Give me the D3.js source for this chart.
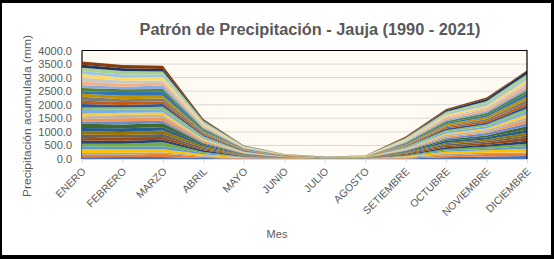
<!DOCTYPE html>
<html lang="es">
<head>
<meta charset="UTF-8">
<title>Patrón de Precipitación - Jauja (1990 - 2021)</title>
<script src="https://d3js.org/d3.v7.min.js"></script>
<style>
    body { margin: 0; background: #fff; }
    svg { display: block; font-family: "Liberation Sans", Arial, sans-serif; }
</style>
</head>
<body>
<svg id="chart" width="554" height="259"></svg>
<script>
// Meses (eje x)
const meses = ["ENERO", "FEBRERO", "MARZO", "ABRIL", "MAYO", "JUNIO", "JULIO",
    "AGOSTO", "SETIEMBRE", "OCTUBRE", "NOVIEMBRE", "DICIEMBRE"];

// Años (una serie por año)
const anios = [1990, 1991, 1992, 1993, 1994, 1995, 1996, 1997, 1998, 1999, 2000,
    2001, 2002, 2003, 2004, 2005, 2006, 2007, 2008, 2009, 2010, 2011, 2012, 2013,
    2014, 2015, 2016, 2017, 2018, 2019, 2020, 2021];

// Precipitación mensual (mm), una fila por año, estimada del gráfico
const precipitacion = [
    [62, 70, 78, 40, 12, 20, 2, 6, 20, 60, 95, 110],
    [95, 88, 120, 42, 18, 4, 1, 3, 22, 70, 90, 75],
    [60, 72, 55, 30, 10, 6, 0, 5, 18, 62, 48, 55],
    [150, 120, 105, 60, 14, 3, 2, 4, 28, 75, 85, 140],
    [105, 98, 115, 52, 20, 2, 3, 1, 15, 48, 60, 95],
    [90, 110, 140, 35, 8, 0, 1, 2, 30, 55, 70, 85],
    [120, 115, 95, 65, 22, 5, 2, 3, 25, 60, 75, 110],
    [85, 125, 100, 40, 12, 3, 0, 6, 35, 45, 75, 120],
    [140, 90, 110, 55, 15, 8, 4, 2, 20, 65, 55, 80],
    [125, 110, 130, 48, 25, 6, 3, 5, 30, 50, 65, 100],
    [110, 135, 120, 62, 18, 4, 5, 3, 22, 70, 80, 115],
    [160, 140, 150, 45, 20, 2, 6, 4, 28, 58, 72, 125],
    [80, 120, 95, 38, 14, 15, 8, 2, 24, 60, 88, 105],
    [115, 105, 125, 50, 10, 3, 2, 6, 18, 52, 40, 130],
    [70, 130, 85, 35, 16, 5, 4, 3, 26, 65, 70, 95],
    [100, 80, 90, 42, 12, 2, 3, 5, 20, 48, 55, 110],
    [135, 115, 100, 58, 14, 6, 2, 2, 32, 60, 85, 120],
    [95, 75, 110, 45, 18, 1, 3, 4, 25, 55, 68, 90],
    [130, 95, 105, 40, 24, 5, 2, 3, 22, 62, 60, 100],
    [120, 110, 90, 52, 20, 20, 4, 6, 30, 52, 70, 95],
    [145, 100, 115, 48, 10, 2, 7, 2, 18, 45, 65, 125],
    [110, 125, 95, 45, 15, 4, 3, 5, 28, 60, 75, 115],
    [90, 140, 150, 55, 22, 6, 2, 3, 35, 50, 80, 130],
    [125, 100, 105, 38, 14, 18, 5, 7, 30, 65, 70, 100],
    [105, 95, 130, 45, 20, 3, 2, 4, 26, 58, 62, 95],
    [130, 115, 100, 52, 18, 5, 3, 6, 22, 70, 85, 110],
    [145, 120, 85, 40, 12, 2, 1, 2, 40, 48, 52, 90],
    [140, 110, 125, 50, 15, 4, 2, 5, 28, 60, 70, 105],
    [100, 105, 95, 42, 16, 6, 3, 4, 24, 55, 78, 85],
    [125, 130, 110, 48, 14, 5, 2, 3, 30, 62, 90, 115],
    [110, 100, 90, 40, 12, 3, 7, 6, 20, 50, 75, 120],
    [120, 125, 122, 38, 10, 2, 1, 8, 35, 45, 55, 25]
];

// Ticks del eje y
const yTicks = [0, 500, 1000, 1500, 2000, 2500, 3000, 3500, 4000];

// Paleta por defecto de Excel (32 series)
const colores = [
    "#4472C4", "#ED7D31", "#A5A5A5", "#FFC000", "#5B9BD5", "#70AD47",
    "#264478", "#9E480E", "#636363", "#997300", "#255E91", "#43682B",
    "#698ED0", "#F1975A", "#B7B7B7", "#FFCD33", "#7CAFDD", "#8CC168",
    "#2F5597", "#C55A11", "#7B7B7B", "#BF9000", "#2E75B6", "#548235",
    "#8FAADC", "#F4B183", "#C9C9C9", "#FFD966", "#9DC3E6", "#A9D18E",
    "#203864", "#843C0C"
];

const svg = d3.select("#chart");
const W = 554, H = 259;
const plot = { left: 82, right: 527, top: 50.5, bottom: 159 };

// Marco exterior
svg.append("rect").attr("width", W).attr("height", H).attr("fill", "#000");
svg.append("rect").attr("x", 2).attr("y", 3).attr("width", W - 5).attr("height", H - 7).attr("fill", "#fff");

// Tabla para d3.stack
const tabla = meses.map((m, i) => {
    const fila = { mes: m };
    anios.forEach((a, j) => { fila[a] = precipitacion[j][i]; });
    return fila;
});
const series = d3.stack().keys(anios)(tabla);

const x = d3.scalePoint().domain(meses).range([plot.left, plot.right]);
const y = d3.scaleLinear().domain([0, 4000]).range([plot.bottom, plot.top]);

// Fondo del área de trazado
svg.append("rect")
    .attr("x", plot.left).attr("y", plot.top)
    .attr("width", plot.right - plot.left).attr("height", plot.bottom - plot.top)
    .attr("fill", "#FFFBF2");

// Borde izquierdo (queda debajo de las áreas)
svg.append("line")
    .attr("x1", plot.left).attr("x2", plot.left)
    .attr("y1", plot.top).attr("y2", plot.bottom)
    .attr("stroke", "#000").attr("stroke-width", 1.2);

// Líneas de cuadrícula
svg.append("g")
    .selectAll("line")
    .data(yTicks.slice(1))
    .join("line")
    .attr("x1", plot.left + 1).attr("x2", plot.right)
    .attr("y1", d => y(d)).attr("y2", d => y(d))
    .attr("stroke", "#D9D9D9").attr("stroke-width", 1);

// Áreas apiladas
const area = d3.area()
    .x(d => x(d.data.mes))
    .y0(d => y(d[0]))
    .y1(d => y(d[1]));

svg.append("g")
    .selectAll("path")
    .data(series)
    .join("path")
    .attr("d", area)
    .attr("fill", (d, i) => colores[i]);

// Bordes superior y derecho del área de trazado
svg.append("path")
    .attr("d", `M${plot.left},${plot.top}H${plot.right}V${plot.bottom}`)
    .attr("fill", "none").attr("stroke", "#000").attr("stroke-width", 1.2);

// Eje x
const ejeX = svg.append("g")
    .attr("transform", `translate(0,${plot.bottom})`)
    .call(d3.axisBottom(x).tickSize(4).tickSizeOuter(0));
ejeX.select(".domain").attr("stroke", "#D9D9D9");
ejeX.selectAll(".tick line").attr("stroke", "#D9D9D9");
ejeX.selectAll("text")
    .attr("fill", "#595959")
    .style("font-size", "10.5px")
    .style("text-anchor", "end")
    .attr("x", 0).attr("y", 0).attr("dy", 0)
    .attr("transform", "translate(4,13) rotate(-45)");

// Eje y
const ejeY = svg.append("g")
    .attr("transform", `translate(${plot.left},0)`)
    .call(d3.axisLeft(y).tickValues(yTicks).tickFormat(d3.format(".1f")).tickSize(0).tickPadding(10));
ejeY.select(".domain").remove();
ejeY.selectAll("text")
    .attr("fill", "#595959")
    .style("font-size", "11px");

// Título
svg.append("text")
    .attr("x", 310).attr("y", 35)
    .attr("text-anchor", "middle")
    .attr("fill", "#595959")
    .style("font-size", "16px").style("font-weight", "bold")
    .attr("textLength", 341).attr("lengthAdjust", "spacingAndGlyphs")
    .text("Patrón de Precipitación - Jauja (1990 - 2021)");

// Títulos de ejes
svg.append("text")
    .attr("x", 277).attr("y", 238)
    .attr("text-anchor", "middle")
    .attr("fill", "#595959")
    .style("font-size", "11px")
    .text("Mes");

svg.append("text")
    .attr("transform", "translate(31,116) rotate(-90)")
    .attr("text-anchor", "middle")
    .attr("fill", "#595959")
    .style("font-size", "11px")
    .attr("textLength", 162).attr("lengthAdjust", "spacingAndGlyphs")
    .text("Precipitación acumulada (mm)");
</script>
</body>
</html>
